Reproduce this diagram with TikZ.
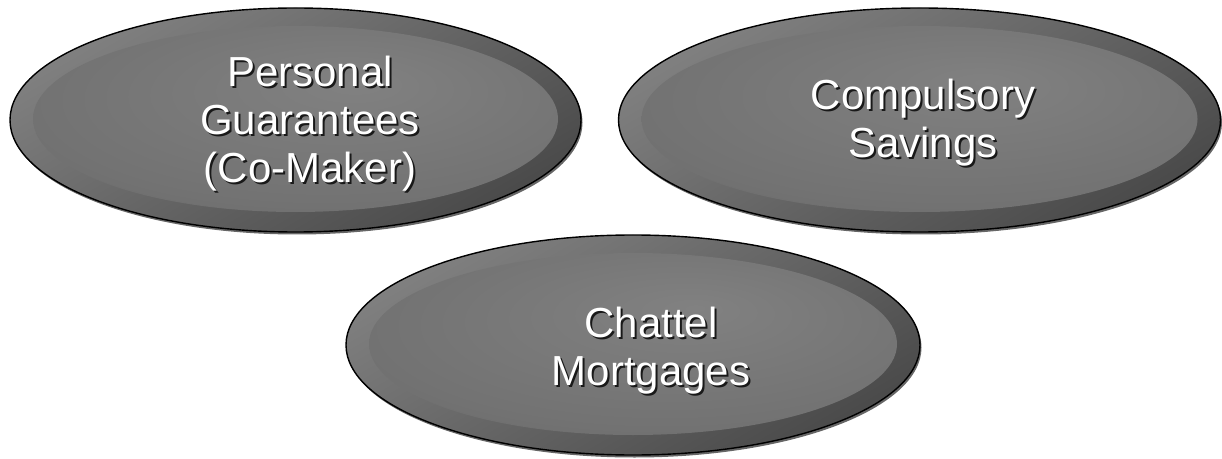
\documentclass[tikz,border=0pt]{standalone}
\usepackage{fontspec}
\setmainfont{Liberation Sans}
\usetikzlibrary{shapes.geometric}

\definecolor{rimlight}{HTML}{808080}
\definecolor{rimdark}{HTML}{4A4A4A}
\definecolor{facelight}{HTML}{818181}
\definecolor{facemid}{HTML}{727272}
\definecolor{facedark}{HTML}{5A5A5A}

% soft elliptical gradient for the raised face of each oval
\pgfdeclareradialshading{ovalfacegrad}{\pgfpoint{6bp}{10bp}}{%
  color(0bp)=(facelight); color(28bp)=(facemid); color(50bp)=(facedark)}

\tikzset{
  ovalshadow/.style={ellipse, inner sep=0pt, outer sep=0pt, fill=black, fill opacity=0.6},
  ovalrim/.style={ellipse, inner sep=0pt, outer sep=0pt, draw=black, line width=1.4pt,
    left color=rimlight, right color=rimdark, shading angle=30},
  ovalface/.style={ellipse, inner sep=0pt, outer sep=0pt, shading=ovalfacegrad},
  ovaltext/.style={font=\fontsize{42}{48}\selectfont, align=center, text=white, inner sep=0pt},
  ovaltextshadow/.style={ovaltext, text=black!90},
}

% #1 name, #2 x, #3 y, #4 half width, #5 half height
\newcommand\drawoval[5]{%
  \node[ovalshadow, minimum width={2*#4pt}, minimum height={2*#5pt}] (#1-shadow) at (#2+1.5, #3-2.5) {};
  \node[ovalrim, minimum width={2*#4pt}, minimum height={2*#5pt}] (#1) at (#2, #3) {};
  \node[ovalface, minimum width={2*#4pt-46pt}, minimum height={2*#5pt-38pt}] (#1-face) at (#2, #3+1) {};
}
% #1 name, #2 x, #3 y, #4 text
\newcommand\drawovaltext[4]{%
  \node[ovaltextshadow] (#1-textshadow) at (#2+2, #3-2) {#4};
  \node[ovaltext] (#1-text) at (#2, #3) {#4};
}

\begin{document}
\begin{tikzpicture}[x=1pt, y=1pt]
  \useasboundingbox (0,0) rectangle (1222,458);

  \drawoval{guarantees}{295.5}{338}{285.5}{112}
  \drawoval{savings}{919.5}{338}{301}{112}
  \drawoval{mortgages}{633}{113}{287}{110}

  \drawovaltext{guarantees}{310}{334.5}{Personal\\Guarantees\\(Co-Maker)}
  \drawovaltext{savings}{923}{335}{Compulsory\\Savings}
  \drawovaltext{mortgages}{651}{107}{Chattel\\Mortgages}
\end{tikzpicture}
\end{document}
